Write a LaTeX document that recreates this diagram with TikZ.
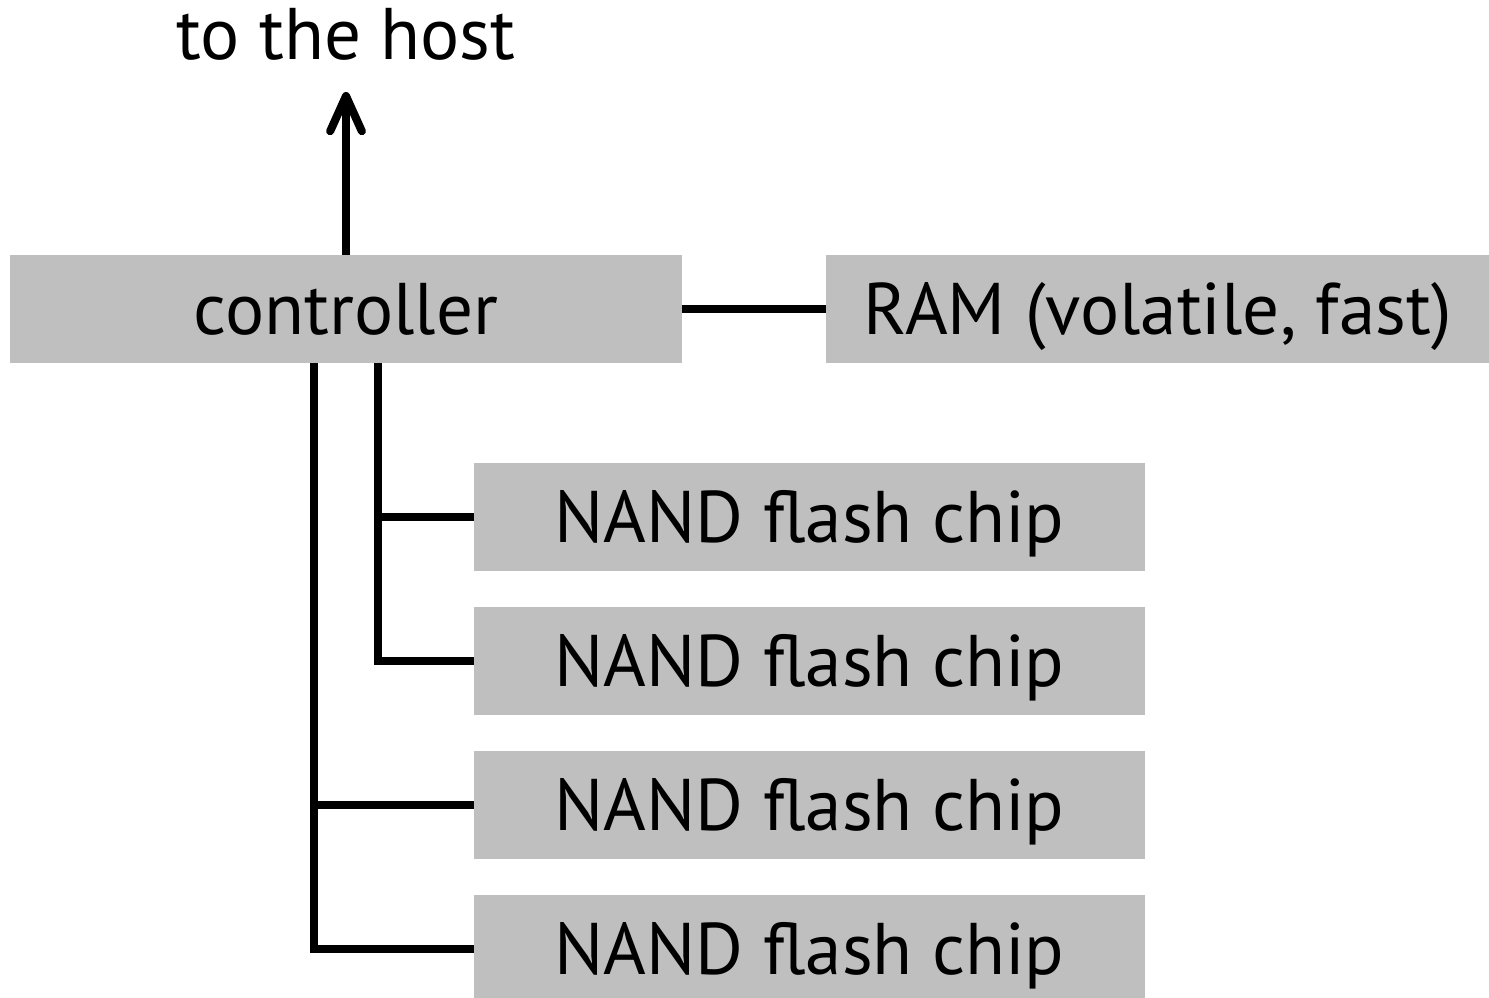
\documentclass[tikz,border=0pt]{standalone}
\usepackage{fontspec}
\setmainfont{PT Sans}
\usetikzlibrary{arrows.meta}
\definecolor{boxgray}{RGB}{191,191,191}
\begin{document}
\begin{tikzpicture}[x=0.01cm,y=-0.01cm,
  box/.style={fill=boxgray,inner sep=0pt,outer sep=0pt,minimum height=1.08cm,
    text height=14.5pt,text depth=0pt,font=\fontsize{20.8}{24}\selectfont},
  wire/.style={line width=2.3pt,line join=miter}]
\useasboundingbox (0,0) rectangle (1489,998);
\clip (0,0) rectangle (1489,998);
\node[box,minimum width=6.72cm] (ctrl) at (346,309) {controller};
\node[box,minimum width=6.63cm] (ram) at (1157.5,309) {RAM (volatile, fast)};
\node[box,minimum width=6.71cm] (n1) at (809.5,517) {NAND flash chip};
\node[box,minimum width=6.71cm] (n2) at (809.5,661) {NAND flash chip};
\node[box,minimum width=6.71cm] (n3) at (809.5,805) {NAND flash chip};
\node[box,minimum width=6.71cm] (n4) at (809.5,949) {NAND flash chip};
\node[anchor=base,inner sep=0pt,font=\fontsize{20.8}{24}\selectfont] (host) at (346,60) {to the host};
\coordinate (tip) at (346,92);
\coordinate (b1) at (378,0);
\coordinate (b2) at (314,0);
\draw[wire,-{Straight Barb[length=10pt,width=9pt,round]}] (ctrl.north) -- (tip);
\draw[wire] (ctrl.east) -- (ram.west);
\draw[wire] (ctrl.south -| b1) |- (n2.west);
\draw[wire] (b1 |- n1.west) -- (n1.west);
\draw[wire] (ctrl.south -| b2) |- (n4.west);
\draw[wire] (b2 |- n3.west) -- (n3.west);
\end{tikzpicture}
\end{document}
